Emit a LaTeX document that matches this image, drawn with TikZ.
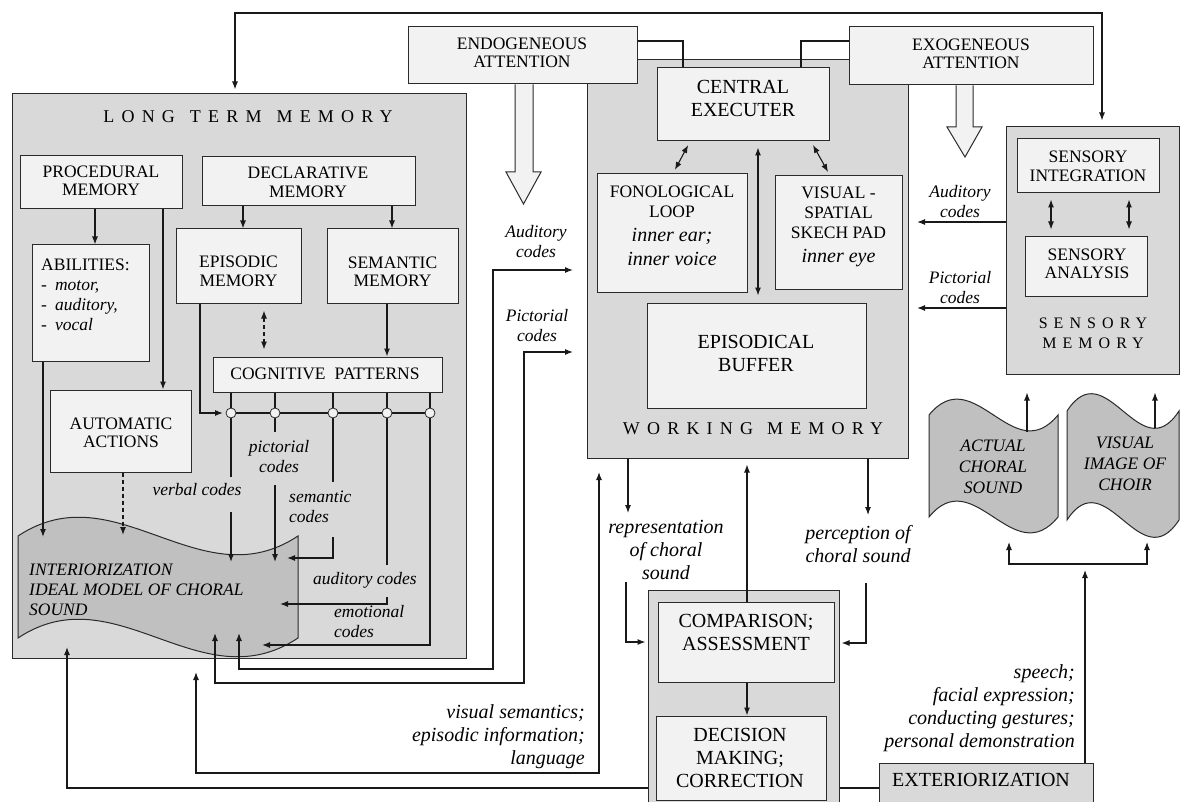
\documentclass[tikz,border=0pt]{standalone}
\usepackage{fontspec}
\setmainfont{Liberation Serif}
\usetikzlibrary{arrows.meta,fit}

\definecolor{panelgray}{HTML}{D9D9D9}
\definecolor{boxgray}{HTML}{F2F2F2}
\definecolor{wavegray}{HTML}{C0C0C0}
\definecolor{inkgray}{HTML}{2A2A2A}

% text sizes (1pt = 1 unit of the picture)
\newcommand\fsa{\fontsize{17.5pt}{18.5pt}\selectfont}
\newcommand\fsb{\fontsize{20pt}{23pt}\selectfont}
\newcommand\fsl{\fontsize{17.5pt}{20pt}\selectfont\itshape}
\newcommand\fsm{\fontsize{20pt}{23pt}\selectfont\itshape}

\tikzset{
  pnl/.style={draw=inkgray, fill=panelgray, line width=1pt, inner sep=0pt},
  bx/.style={draw=inkgray, fill=boxgray, line width=1pt, inner sep=0pt},
  hl/.style={font=\fontsize{18pt}{20pt}\selectfont\addfontfeature{LetterSpace=40}, inner sep=0pt, align=center, text=black},
  txt/.style={font=\fsa, align=center, inner sep=0pt},
  btxt/.style={font=\fsb, align=center, inner sep=0pt},
  lbl/.style={font=\fsl, align=center, inner sep=0pt},
  mlbl/.style={font=\fsm, inner sep=0pt},
  lnk/.style={line width=1.1pt, draw=black!90},
  arr/.style={lnk, -{Latex[length=8pt,width=6pt]}},
  darr/.style={lnk, {Latex[length=8pt,width=6pt]}-{Latex[length=8pt,width=6pt]}},
  dsh/.style={dash pattern=on 4pt off 3pt},
  jdot/.style={circle, draw=inkgray, fill=boxgray, line width=0.8pt, minimum size=10pt, inner sep=0pt},
  wshape/.style={draw=inkgray, fill=wavegray, line width=1pt},
  harr/.style={draw=inkgray, fill=boxgray, line width=1pt},
}

\begin{document}
\begin{tikzpicture}[x=1pt,y=-1pt]
\useasboundingbox (0,0) rectangle (1180,802);
\fill[white] (0,0) rectangle (1180,802);
\clip (0,0) rectangle (1180,802);

% ================= LONG TERM MEMORY =================
\node[pnl, fit={(12,94) (466,658)}] (ltm) {};
\node[hl] (ltmtitle) at (248,117) {LONG\hspace{15pt}TERM\hspace{15pt}MEMORY};

\node[bx, fit={(20,156) (182,209)}] (proc) {};
\node[txt] (proctext) at (101,181) {PROCEDURAL\\MEMORY};
\node[bx, fit={(202,157) (415,206)}] (decl) {};
\node[txt] (decltext) at (308,182.5) {DECLARATIVE\\MEMORY};
\node[bx, fit={(32,245) (149,361)}] (abil) {};
\node[font=\fontsize{17.5pt}{20pt}\selectfont, align=left, anchor=north west, inner sep=0pt]
  (abiltext) at (41,259) {ABILITIES:\\-\hspace{8pt}\textit{motor,}\\-\hspace{8pt}\textit{auditory,}\\-\hspace{8pt}\textit{vocal}};
\node[bx, fit={(176,229) (301,303)}] (epi) {};
\node[txt] (epitext) at (238.5,271.5) {EPISODIC\\MEMORY};
\node[bx, fit={(327,229) (458,303)}] (sem) {};
\node[txt] (semtext) at (392.5,272) {SEMANTIC\\MEMORY};
\node[bx, fit={(213,357) (442,392)}] (cp) {};
\node[txt] (cptext) at (325,373.5) {COGNITIVE\hspace{9pt}PATTERNS};
\node[bx, fit={(50,390) (191,472)}] (aa) {};
\node[txt] (aatext) at (121,433) {AUTOMATIC\\ACTIONS};

% ideal model of choral sound (wavy sheet)
\path[wshape] (18,536) .. controls (116,471) and (200,601) .. (298,536)
  -- (298,638) .. controls (200,703) and (116,573) .. (18,638) -- cycle;
\node[font=\fsl, align=left, anchor=west, inner sep=0pt] (inttext) at (29,590)
  {INTERIORIZATION\\IDEAL MODEL OF CHORAL\\SOUND};

% entry points on the sheet
\coordinate (inV) at (231,562);
\coordinate (inP) at (275,562);
\coordinate (inS) at (287,558);
\coordinate (inA) at (280,604);
\coordinate (inE) at (262,645);
\coordinate (inAb) at (43,537);
\coordinate (inAa) at (123,535);
\coordinate (inD) at (67,647);
\coordinate (inWa) at (239,633);
\coordinate (inWp) at (215,633);
\coordinate (inVs) at (196,672);

% memory hierarchy
\draw[arr] (proc.south -| 95,0) -- (abil.north -| 95,0);
\draw[arr] (proc.south -| 163,0) -- (aa.north -| 163,0);
\draw[arr] (decl.south -| 243,0) -- (epi.north -| 243,0);
\draw[arr] (decl.south -| 392,0) -- (sem.north -| 392,0);
\draw[darr, dsh, shorten <=7pt, shorten >=7pt] (epi.south -| 264,0) -- (cp.north -| 264,0);
\draw[arr] (sem.south -| 387,0) -- (cp.north -| 387,0);
\draw[arr] (abil.south -| inAb) -- (inAb);
\draw[arr, dsh] (aa.south -| inAa) -- (inAa);

% code bus from cognitive patterns
\coordinate (b1) at (231,413);
\coordinate (b2) at (275,413);
\coordinate (b3) at (333,413);
\coordinate (b4) at (387,413);
\coordinate (b5) at (430,413);
\draw[lnk] (b1) -- (b5);
\draw[lnk] (cp.south -| b1) -- (231,477);
\draw[arr] (231,512) -- (inV);
\draw[lnk] (cp.south -| b2) -- (275,432);
\draw[arr] (275,485) -- (inP);
\draw[lnk] (cp.south -| b3) -- (333,482);
\draw[arr] (333,537) |- (inS);
\draw[lnk] (cp.south -| b4) -- (387,565);
\draw[arr] (387,597) |- (inA);
\draw[arr] (cp.south -| b5) |- (inE);
\draw[arr, shorten >=8pt] (epi.south -| 200,0) |- (b1);
\foreach \n in {1,...,5} \node[jdot] (c\n) at (b\n) {};

\node[lbl] (lverb) at (197,490) {verbal codes};
\node[lbl] (lpict) at (279,457) {pictorial\\codes};
\node[lbl, align=left, anchor=west] (lsem) at (289,506.5) {semantic\\codes};
\node[lbl] (laud) at (365,580) {auditory codes};
\node[lbl, align=left, anchor=west] (lemo) at (334,622) {emotional\\codes};

% ================= WORKING MEMORY =================
\node[pnl, fit={(587,60) (908,458)}] (wm) {};
\node[hl] (wmtitle) at (753,429) {WORKING\hspace{14pt}MEMORY};
\node[bx, fit={(657,68) (829,141)}] (ce) {};
\node[btxt] (cetext) at (743,98.5) {CENTRAL\\EXECUTER};
\node[bx, fit={(597,174) (747,292)}] (fon) {};
\node[txt, anchor=north, font=\fontsize{17.5pt}{19.7pt}\selectfont] (fontext) at (672,186)
  {FONOLOGICAL\\LOOP\\[4pt]\fsm inner ear;\\[5pt]\fsm inner voice};
\node[bx, fit={(775,176) (902,289)}] (vis) {};
\node[txt, anchor=north, font=\fontsize{17.5pt}{20pt}\selectfont] (vistext) at (838.5,187)
  {VISUAL -\\SPATIAL\\SKECH PAD\\[4pt]\fsm inner eye};
\node[bx, fit={(647,303) (866,408)}] (eb) {};
\node[btxt] (ebtext) at (756,353) {EPISODICAL\\BUFFER};

\draw[darr, shorten <=4pt, shorten >=4pt] (ce.south -| 690,0) -- (fon.north -| 673,0);
\draw[darr, shorten <=4pt, shorten >=4pt] (ce.south -| 811,0) -- (vis.north -| 830,0);
\draw[darr, shorten <=6pt, shorten >=7pt] (ce.south -| 758,0) -- (eb.north -| 758,0);

% ================= ATTENTION =================
\node[bx, fit={(408,27) (637,84)}] (endo) {};
\node[txt] (endotext) at (522,53) {ENDOGENEOUS\\ATTENTION};
\node[bx, fit={(849,27) (1093,85)}] (exo) {};
\node[txt] (exotext) at (971,54) {EXOGENEOUS\\ATTENTION};
\coordinate (lk) at (0,41);
\draw[lnk] (endo.east |- lk) -| (ce.north -| 683,0);
\draw[lnk] (exo.west |- lk) -| (ce.north -| 801,0);
\path[harr] (endo.south -| 515,0) -- (515,172) -- (506,172) -- (523.5,204) -- (541,172) -- (533,172) -- (endo.south -| 533,0);
\path[harr] (exo.south -| 956,0) -- (956,127) -- (947,127) -- (965,157) -- (982,127) -- (973,127) -- (exo.south -| 973,0);

% ================= SENSORY MEMORY =================
\node[pnl, fit={(1006,127) (1179,374)}] (sm) {};
\node[bx, fit={(1017,139) (1159,193)}] (si) {};
\node[txt] (sitext) at (1088,166.5) {SENSORY\\INTEGRATION};
\node[bx, fit={(1025,237) (1147,296)}] (sa) {};
\node[txt] (satext) at (1087,264) {SENSORY\\ANALYSIS};
\node[hl, font=\fontsize{16pt}{20pt}\selectfont\addfontfeature{LetterSpace=38}] (smtitle) at (1093,333) {SENSORY\\MEMORY};
\draw[darr, shorten <=6pt, shorten >=7pt] (si.south -| 1051,0) -- (sa.north -| 1051,0);
\draw[darr, shorten <=6pt, shorten >=7pt] (si.south -| 1129,0) -- (sa.north -| 1129,0);

% top feedback line
\coordinate (topL) at (235,13);
\coordinate (topR) at (1102,13);
\draw[darr, shorten <=4pt, shorten >=6pt] (ltm.north -| topL) -- (topL) -- (topR) -- (sm.north -| topR);

% sensory codes to working memory
\coordinate (wmAr) at (917,222);
\coordinate (wmPr) at (917,308);
\draw[arr] (sm.west |- wmAr) -- (wmAr);
\draw[arr] (sm.west |- wmPr) -- (wmPr);
\node[lbl] (laudr) at (960,202) {Auditory\\codes};
\node[lbl] (lpicr) at (960,288) {Pictorial\\codes};

% long term memory <-> working memory
\coordinate (wmA) at (573,270);
\coordinate (wmP) at (573,352);
\coordinate (wmV) at (599,472);
\draw[darr] (inWa) |- (493,669) |- (wmA);
\draw[darr] (inWp) |- (524,683) |- (wmP);
\draw[darr] (inVs) |- (wmV |- 0,773) -- (wmV);
\node[lbl] (laudl) at (536,242) {Auditory\\codes};
\node[lbl] (lpicl) at (537,326) {Pictorial\\codes};
\node[mlbl, align=right, anchor=east] (lvis) at (585,737) {visual semantics;\\episodic information;\\language};

% ================= COMPARISON / DECISION =================
\node[pnl, fit={(648,590) (839,815)}] (cmpbox) {};
\node[bx, fit={(658,602) (834,682)}] (comp) {};
\node[btxt] (comptext) at (746,632) {COMPARISON;\\ASSESSMENT};
\node[bx, fit={(656,716) (826,800)}] (dec) {};
\node[btxt] (dectext) at (740,758) {DECISION\\MAKING;\\CORRECTION};
\draw[arr] (comp.south -| 747,0) -- (dec.north -| 747,0);
\draw[arr, shorten >=6pt] (comp.north -| 747,0) -- (wm.south -| 747,0);

\coordinate (repEnd) at (628,513);
\coordinate (percEnd) at (868,515);
\draw[arr] (wm.south -| repEnd) -- (repEnd);
\draw[arr] (wm.south -| percEnd) -- (percEnd);
\draw[arr, shorten >=2pt] (626,582) |- (cmpbox.west |- 0,642);
\draw[arr, shorten >=2pt] (866,583) |- (cmpbox.east |- 0,643);
\node[mlbl, align=center] (lrep) at (666,550) {representation\\of choral\\sound};
\node[mlbl, align=center] (lperc) at (858,544.5) {perception of\\choral sound};

% ================= EXTERIORIZATION =================
\node[pnl, fit={(879,763) (1093,815)}] (ext) {};
\node[btxt] (exttext) at (981,780) {EXTERIORIZATION};
\draw[lnk] (cmpbox.east |- 0,788) -- (ext.west |- 0,788);
\draw[arr] (cmpbox.west |- 0,788) -| (inD);
\node[mlbl, align=right, anchor=east] (lspeech) at (1075,708)
  {speech;\\facial expression;\\conducting gestures;\\personal demonstration};

% actual choral sound / visual image of choir
\path[wshape] (929,415) .. controls (974,360) and (1013,470) .. (1058,415)
  -- (1058,517) .. controls (1013,572) and (974,462) .. (929,517) -- cycle;
\path[wshape] (1067,411) .. controls (1106,351) and (1140,471) .. (1179,411)
  -- (1179,520) .. controls (1140,580) and (1106,460) .. (1067,520) -- cycle;
\node[lbl, font=\fontsize{17.5pt}{21pt}\selectfont\itshape] (actext) at (993,467) {ACTUAL\\CHORAL\\SOUND};
\node[lbl, font=\fontsize{17.5pt}{21pt}\selectfont\itshape] (vitext) at (1125,464) {VISUAL\\IMAGE OF\\CHOIR};

\coordinate (acTop) at (1027,432);
\coordinate (viTop) at (1155,428);
\draw[arr, shorten >=18pt] (acTop) -- (sm.south -| acTop);
\draw[arr, shorten >=18pt] (viTop) -- (sm.south -| viTop);
\coordinate (acBot) at (1009,542);
\coordinate (viBot) at (1147,542);
\coordinate (fork) at (1085,564);
\draw[darr] (acBot) |- (fork) -| (viBot);
\draw[arr, shorten >=6pt] (ext.north -| fork) -- (fork);
\end{tikzpicture}
\end{document}
